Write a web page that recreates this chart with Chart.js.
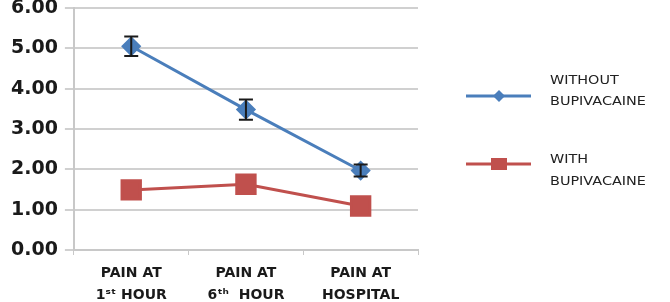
<!DOCTYPE html>
<html>
<head>
<meta charset="utf-8">
<script src="https://cdn.jsdelivr.net/npm/chart.js@4/dist/chart.umd.min.js"></script>
<style>
  html, body { margin: 0; padding: 0; background: #fff; }
  #wrap { width: 670px; height: 302px; position: relative; }
</style>
</head>
<body>
<div id="wrap"><canvas id="myChart" width="670" height="302"></canvas></div>
<script>
var categories = [["PAIN AT", "1\u02e2\u1d57 HOUR"], ["PAIN AT", "6\u1d57\u02b0  HOUR"], ["PAIN AT", "HOSPITAL"]];
var seriesNames = [["WITHOUT", "BUPIVACAINE"], ["WITH", "BUPIVACAINE"]];
var withoutValues = [5.05, 3.48, 1.97];
var withoutErrors = [0.24, 0.25, 0.15];
var withValues = [1.49, 1.63, 1.09];
var yTicks = [0, 1, 2, 3, 4, 5, 6];

var blue = '#4a7ebb';
var red = '#c0504d';

// error bars for the blue series
var errorBars = {
  id: 'errorBars',
  afterDatasetsDraw: function(chart) {
    var ctx = chart.ctx;
    var meta = chart.getDatasetMeta(0);
    var y = chart.scales.y;
    ctx.save();
    ctx.strokeStyle = '#1a1a1a';
    ctx.lineWidth = 2;
    for (var i = 0; i < meta.data.length; i++) {
      var px = meta.data[i].x;
      var top = y.getPixelForValue(withoutValues[i] + withoutErrors[i]);
      var bot = y.getPixelForValue(withoutValues[i] - withoutErrors[i]);
      ctx.beginPath();
      ctx.moveTo(px, top); ctx.lineTo(px, bot);
      ctx.moveTo(px - 7, top); ctx.lineTo(px + 7, top);
      ctx.moveTo(px - 7, bot); ctx.lineTo(px + 7, bot);
      ctx.stroke();
    }
    ctx.restore();
  }
};

// legend with two-line labels on the right
var sideLegend = {
  id: 'sideLegend',
  afterDraw: function(chart) {
    var ctx = chart.ctx;
    var rows = [96, 164];
    var textRows = [[81, 102], [160, 182]];
    ctx.save();
    chart.data.datasets.forEach(function(ds, i) {
      var yy = rows[i];
      ctx.strokeStyle = ds.borderColor;
      ctx.lineWidth = 3;
      ctx.beginPath();
      ctx.moveTo(466, yy); ctx.lineTo(531, yy);
      ctx.stroke();
      ctx.fillStyle = ds.backgroundColor;
      if (i === 0) {
        ctx.beginPath();
        ctx.moveTo(499, yy - 6); ctx.lineTo(505, yy); ctx.lineTo(499, yy + 6); ctx.lineTo(493, yy);
        ctx.closePath(); ctx.fill();
      } else {
        ctx.fillRect(491, yy - 6, 16, 12);
      }
      ctx.fillStyle = '#222';
      ctx.font = '12px "DejaVu Sans"';
      ctx.textBaseline = 'middle';
      ctx.save();
      ctx.translate(550, 0);
      ctx.scale(1.2, 1);
      ctx.fillText(seriesNames[i][0], 0, textRows[i][0]);
      ctx.fillText(seriesNames[i][1], 0, textRows[i][1]);
      ctx.restore();
    });
    ctx.restore();
  }
};

new Chart(document.getElementById('myChart').getContext('2d'), {
  type: 'line',
  data: {
    labels: categories,
    datasets: [{
      label: 'WITHOUT BUPIVACAINE',
      data: withoutValues,
      borderColor: blue,
      backgroundColor: blue,
      borderWidth: 3,
      pointStyle: 'rectRot',
      pointRadius: 8,
      pointHoverRadius: 8,
      tension: 0
    }, {
      label: 'WITH BUPIVACAINE',
      data: withValues,
      borderColor: red,
      backgroundColor: red,
      borderWidth: 3,
      pointStyle: 'rect',
      pointRadius: 13,
      pointHoverRadius: 13,
      tension: 0
    }]
  },
  options: {
    responsive: false,
    animation: false,
    layout: { autoPadding: false, padding: { left: 4, right: 252, top: 0, bottom: 0 } },
    plugins: {
      legend: { display: false },
      tooltip: { enabled: false }
    },
    scales: {
      x: {
        offset: true,
        afterFit: function(axis) { axis.height = 52; },
        grid: { offset: true, drawOnChartArea: false, drawTicks: true, tickLength: 5, color: '#c8c8c8' },
        border: { color: '#c8c8c8', width: 2 },
        ticks: {
          color: '#1a1a1a',
          font: { family: 'DejaVu Sans', size: 14, weight: 'bold', lineHeight: 1.55 },
          padding: 8,
          maxRotation: 0
        }
      },
      y: {
        min: 0,
        max: 6,
        afterBuildTicks: function(axis) {
          axis.ticks = yTicks.map(function(v) { return { value: v }; });
        },
        grid: { color: '#d0d0d0', lineWidth: 2, tickLength: 9 },
        border: { color: '#c8c8c8', width: 2 },
        ticks: {
          color: '#1a1a1a',
          font: { family: 'DejaVu Sans', size: 19, weight: 'bold', lineHeight: 0.1 },
          padding: 7,
          callback: function(v) { return Number(v).toFixed(2); }
        }
      }
    }
  },
  plugins: [errorBars, sideLegend]
});
</script>
</body>
</html>
